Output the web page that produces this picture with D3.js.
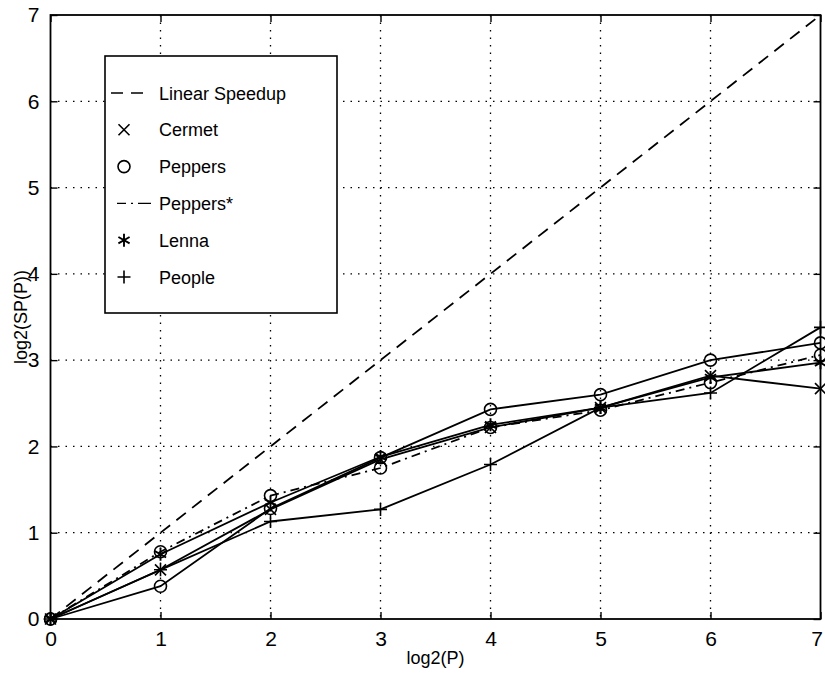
<!DOCTYPE html>
<html lang="en">
<head>
<meta charset="UTF-8">
<title>Speedup</title>
<script src="https://d3js.org/d3.v7.min.js"></script>
<style>
  body { margin: 0; background: #fff; }
  text { font-family: "Liberation Sans", Arial, sans-serif; fill: #000; }
</style>
</head>
<body>
<div id="chart"></div>
<script>
// data
var logP = [0, 1, 2, 3, 4, 5, 6, 7];
var linear = [0, 1, 2, 3, 4, 5, 6, 7];
var cermet = [0, 0.57, 1.27, 1.85, 2.22, 2.45, 2.82, 2.67];
var peppers = [0, 0.38, 1.28, 1.87, 2.43, 2.60, 3.00, 3.20];
var peppersStar = [0, 0.78, 1.43, 1.75, 2.22, 2.42, 2.74, 3.06];
var lenna = [0, 0.75, 1.35, 1.88, 2.25, 2.45, 2.80, 2.97];
var people = [0, 0.57, 1.13, 1.27, 1.79, 2.45, 2.62, 3.38];
var xTicks = [0, 1, 2, 3, 4, 5, 6, 7];
var yTicks = [0, 1, 2, 3, 4, 5, 6, 7];

var series = [
  { name: "Linear Speedup", values: linear, dash: "12,8", marker: null },
  { name: "Cermet", values: cermet, dash: null, marker: "x" },
  { name: "Peppers", values: peppers, dash: null, marker: "o" },
  { name: "Peppers*", values: peppersStar, dash: "9,5,2,5", marker: "o", legendMarker: false },
  { name: "Lenna", values: lenna, dash: null, marker: "*" },
  { name: "People", values: people, dash: null, marker: "+" }
];

var width = 825, height = 673;
var pLeft = 50.5, pRight = 820.5, pTop = 15, pBottom = 619;

var svg = d3.select("#chart").append("svg")
  .attr("width", width)
  .attr("height", height);

var x = d3.scaleLinear().domain([0, 7]).range([pLeft, pRight]);
var y = d3.scaleLinear().domain([0, 7]).range([pBottom, pTop]);

// dotted grid
svg.append("g").selectAll("line").data(xTicks.slice(1, -1)).enter().append("line")
  .attr("x1", d => x(d)).attr("x2", d => x(d))
  .attr("y1", pTop).attr("y2", pBottom)
  .attr("stroke", "#000").attr("stroke-width", 1.3)
  .attr("stroke-dasharray", "1.5,6");
svg.append("g").selectAll("line").data(yTicks.slice(1, -1)).enter().append("line")
  .attr("y1", d => y(d)).attr("y2", d => y(d))
  .attr("x1", pLeft).attr("x2", pRight)
  .attr("stroke", "#000").attr("stroke-width", 1.3)
  .attr("stroke-dasharray", "1.5,6");

// axes with inward ticks on all sides
var fmt = d3.format("d");
var xb = svg.append("g").attr("transform", "translate(0," + pBottom + ")")
  .call(d3.axisBottom(x).tickValues(xTicks).tickFormat(fmt).tickSizeInner(-7).tickSizeOuter(0).tickPadding(12));
var xt = svg.append("g").attr("transform", "translate(0," + pTop + ")")
  .call(d3.axisTop(x).tickValues(xTicks).tickSizeInner(-7).tickSizeOuter(0).tickFormat(""));
var yl = svg.append("g").attr("transform", "translate(" + pLeft + ",0)")
  .call(d3.axisLeft(y).tickValues(yTicks).tickFormat(fmt).tickSizeInner(-7).tickSizeOuter(0).tickPadding(11));
var yr = svg.append("g").attr("transform", "translate(" + pRight + ",0)")
  .call(d3.axisRight(y).tickValues(yTicks).tickSizeInner(-7).tickSizeOuter(0).tickFormat(""));
[xb, xt, yl, yr].forEach(function(g) {
  g.select(".domain").remove();
  g.selectAll("line").attr("stroke", "#000").attr("stroke-width", 1.4);
  g.selectAll("text").style("font-size", "21px").attr("fill", "#000");
});
// last x label sits at the window edge, nudge it in
xb.selectAll(".tick text").filter(d => d === 7).attr("dx", "-4");

// box
svg.append("rect")
  .attr("x", pLeft).attr("y", pTop)
  .attr("width", pRight - pLeft).attr("height", pBottom - pTop)
  .attr("fill", "none").attr("stroke", "#000").attr("stroke-width", 1.8);

// axis labels
svg.append("text")
  .attr("x", (pLeft + pRight) / 2).attr("y", 664)
  .attr("text-anchor", "middle").style("font-size", "18px")
  .text("log2(P)");
svg.append("text")
  .attr("transform", "translate(27," + ((pTop + pBottom) / 2) + ") rotate(-90)")
  .attr("text-anchor", "middle").style("font-size", "18px")
  .text("log2(SP(P))");

// marker drawing
function drawMarker(g, type, cx, cy) {
  var s = 5.5;
  if (type === "o") {
    g.append("circle").attr("cx", cx).attr("cy", cy).attr("r", 6)
      .attr("fill", "none").attr("stroke", "#000").attr("stroke-width", 1.6);
  } else if (type === "x") {
    g.append("path").attr("d", "M" + (cx - s) + "," + (cy - s) + "L" + (cx + s) + "," + (cy + s) +
      "M" + (cx - s) + "," + (cy + s) + "L" + (cx + s) + "," + (cy - s))
      .attr("stroke", "#000").attr("stroke-width", 1.6);
  } else if (type === "+") {
    g.append("path").attr("d", "M" + (cx - 6.5) + "," + cy + "L" + (cx + 6.5) + "," + cy +
      "M" + cx + "," + (cy - 6.5) + "L" + cx + "," + (cy + 6.5))
      .attr("stroke", "#000").attr("stroke-width", 1.6);
  } else if (type === "*") {
    var a = 6.5, b = 5.6, c = 3.2;
    g.append("path").attr("d", "M" + cx + "," + (cy - a) + "L" + cx + "," + (cy + a) +
      "M" + (cx - b) + "," + (cy - c) + "L" + (cx + b) + "," + (cy + c) +
      "M" + (cx - b) + "," + (cy + c) + "L" + (cx + b) + "," + (cy - c))
      .attr("stroke", "#000").attr("stroke-width", 1.9);
  }
}

// lines and markers
var lineGen = d3.line().x((d, i) => x(logP[i])).y(d => y(d));
var plot = svg.append("g");
series.forEach(function(s) {
  plot.append("path")
    .datum(s.values)
    .attr("d", lineGen)
    .attr("fill", "none")
    .attr("stroke", "#000")
    .attr("stroke-width", 1.8)
    .attr("stroke-dasharray", s.dash);
  if (s.marker) {
    s.values.forEach(function(v, i) {
      drawMarker(plot, s.marker, x(logP[i]), y(v));
    });
  }
});

// legend
var lg = svg.append("g");
lg.append("rect")
  .attr("x", 105).attr("y", 56).attr("width", 232).attr("height", 257)
  .attr("fill", "#fff").attr("stroke", "#000").attr("stroke-width", 1.6);
series.forEach(function(s, i) {
  var ly = 93 + i * 36.8;
  if (s.dash) {
    lg.append("line")
      .attr("x1", 111).attr("x2", 151).attr("y1", ly).attr("y2", ly)
      .attr("stroke", "#000").attr("stroke-width", 1.4)
      .attr("stroke-dasharray", s.name === "Peppers*" ? "0,6,9,5,2,5,10" : "12,8");
  }
  if (s.marker && s.legendMarker !== false) {
    drawMarker(lg, s.marker, 124, ly);
  }
  lg.append("text")
    .attr("x", 159).attr("y", ly + 6.5)
    .style("font-size", "18px")
    .text(s.name);
});
</script>
</body>
</html>
